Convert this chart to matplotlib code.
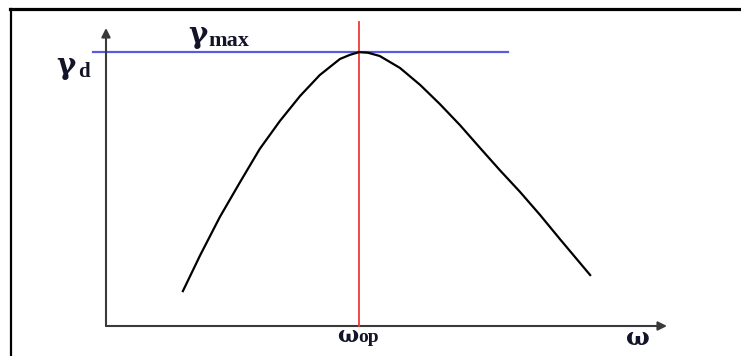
import matplotlib
matplotlib.use("Agg")
import matplotlib.pyplot as plt
from matplotlib.lines import Line2D

# Dry density against water content (arbitrary units)
omega_left = [1.37, 1.68, 2.03, 2.39, 2.74, 3.10, 3.46, 3.81, 4.17, 4.35, 4.51]
gamma_left = [1.17, 2.38, 3.66, 4.83, 5.94, 6.88, 7.72, 8.42, 8.96, 9.10, 9.19]
omega_right = [4.67, 4.88, 5.24, 5.60, 5.95, 6.31, 6.67, 7.02, 7.38, 7.74, 8.09, 8.63]
gamma_right = [9.17, 9.06, 8.66, 8.09, 7.45, 6.74, 5.97, 5.23, 4.50, 3.72, 2.92, 1.71]

omega_op = 4.51
gamma_max = 9.19
gamma_max_line = (-0.23, 7.17)   # extent of the gamma_max guide
omega_op_top = 10.2              # top of the omega_op guide

W, H = 741, 356
fig = plt.figure(figsize=(W / 100, H / 100), dpi=100)
fig.patch.set_facecolor("white")

# Outer frame: top and left edges only
fig.add_artist(Line2D([10 / W, 1], [1 - 8.5 / H] * 2, color="black", lw=2.3))
fig.add_artist(Line2D([10.5 / W] * 2, [0, 1 - 8.5 / H], color="black", lw=1.6))

ax = fig.add_axes([106 / W, 30 / H, 561 / W, 298 / H])
ax.set_xlim(0, 10)
ax.set_ylim(0, 10)
ax.axis("off")

# Axes with arrow heads
arrow = dict(arrowstyle="-|>", color="#3a3a3a", lw=1.5, mutation_scale=13,
             shrinkA=0, shrinkB=0)
ax.annotate("", xy=(10, 0), xytext=(0, 0), arrowprops=arrow, annotation_clip=False)
ax.annotate("", xy=(0, 10), xytext=(0, 0), arrowprops=arrow, annotation_clip=False)

# Guides
ax.plot(gamma_max_line, [gamma_max, gamma_max], color="#5a5ae0", lw=1.6,
        clip_on=False, zorder=2)
ax.plot([omega_op, omega_op], [0, omega_op_top], color="#f03838", lw=1.3,
        clip_on=False, zorder=3)

# Compaction curve
ax.plot(omega_left + omega_right, gamma_left + gamma_right, color="black",
        lw=1.6, solid_joinstyle="round", zorder=4)

latin = dict(family="Liberation Serif", fontweight="bold", color="#141428",
             va="baseline", ha="left")
greek = dict(latin, family="DejaVu Serif")
ax.text(1.46, 9.50, "γ", fontsize=21, **greek)
ax.text(1.82, 9.40, "max", fontsize=16, **latin)
ax.text(-0.88, 8.46, "γ", fontsize=21, **greek)
ax.text(-0.50, 8.36, "d", fontsize=15, **latin)
ax.text(4.12, -0.54, "ω", fontsize=16, **greek)
ax.text(4.50, -0.54, "op", fontsize=14, **latin)
ax.text(9.27, -0.64, "ω", fontsize=18, **greek)

fig.savefig("out.png", dpi=100, facecolor="white")
